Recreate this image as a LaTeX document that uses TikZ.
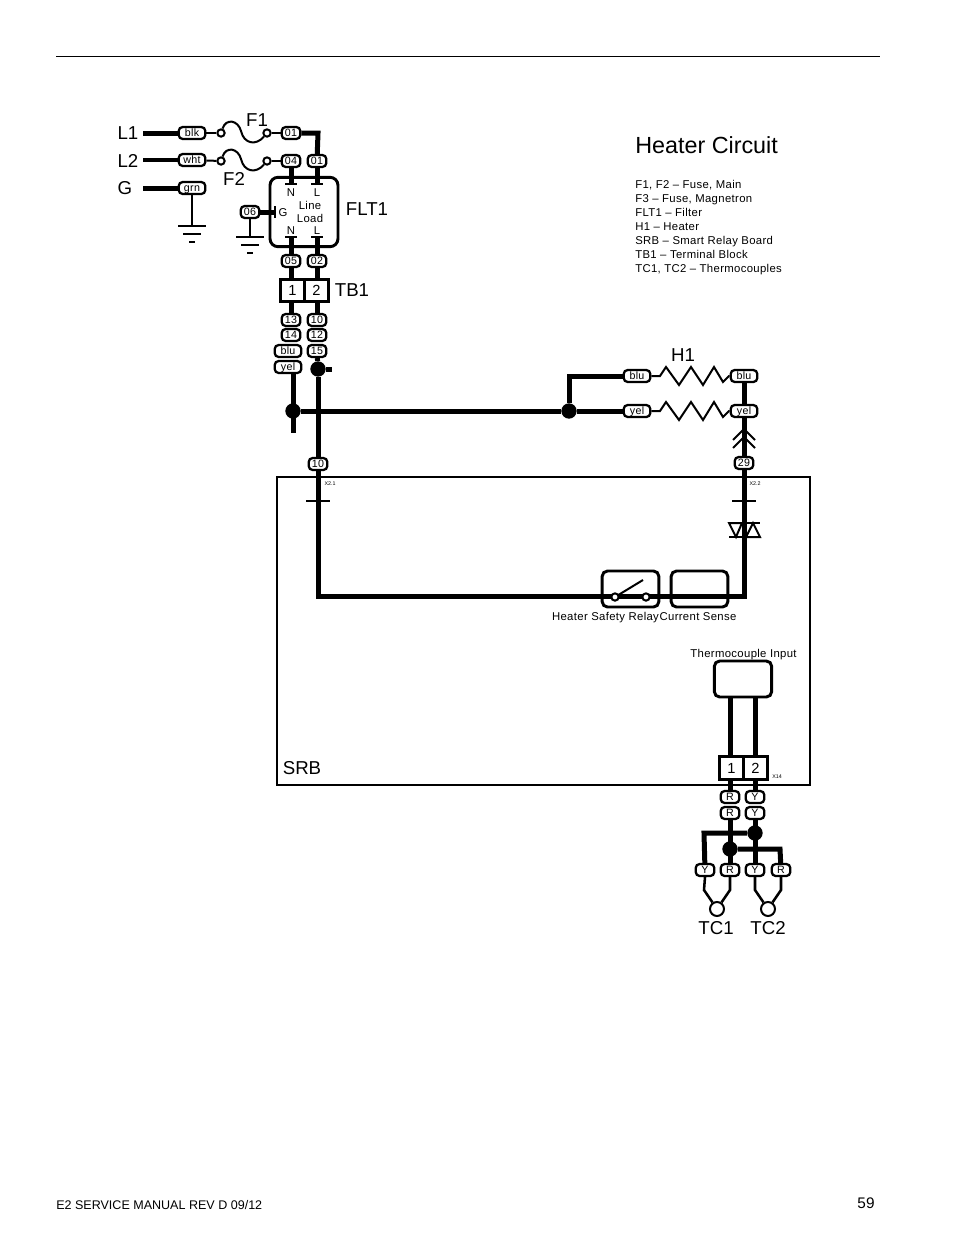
\documentclass[tikz,border=0pt]{standalone}
\usepackage{fontspec}
\setmainfont{Liberation Sans}
\newfontfamily\spaced[LetterSpace=3]{Liberation Sans}
\usetikzlibrary{positioning}

\begin{document}
\begin{tikzpicture}[x=0.75pt, y=-0.75pt,
			tag/.style={
					rectangle,
					rounded corners=3pt,
					draw,
					fill=white,
					line width=1.7pt,
					minimum height=9pt,
					minimum width=14pt,
					inner sep=0pt,
					text height=5.7pt,
					text depth=0pt,
					font=\spaced\fontsize{8}{8}\selectfont
				},
			wtag/.style={tag, minimum width=20pt},
			wire/.style={draw, line width=3.75pt},
			midwire/.style={draw, line width=3pt},
			thinwire/.style={draw, line width=1.5pt},
			tcwire/.style={draw, line width=1.9pt},
			joint/.style={circle, fill=black, inner sep=0pt, minimum size=11.5pt},
			term/.style={circle, draw, fill=white, line width=1.5pt, inner sep=0pt, minimum size=5.5pt},
			panel/.style={draw, rounded corners=4pt, line width=2.2pt, fill=white, inner sep=0pt},
			pin/.style={draw=black, fill=white, line width=2.4pt, inner sep=0pt, minimum height=17pt, minimum width=18pt, font=\fontsize{11}{11}\selectfont},
			big/.style={inner sep=0pt, font=\fontsize{14}{14}\selectfont},
			small/.style={inner sep=0pt, font=\spaced\fontsize{8.5}{8.5}\selectfont},
			mini/.style={inner sep=0pt, font=\fontsize{4}{4}\selectfont},
			earth/.pic={
					\draw[line width=1.5pt] (-14,0) -- (14,0);
					\draw[line width=2.2pt] (-9,8) -- (9,8);
					\draw[line width=2.2pt] (-3,16) -- (3,16);
				}
		]
		\useasboundingbox (0,0) rectangle (954,1235);
		% Page rule and footer
		\coordinate (ruleleft) at (56,56);
		\coordinate (ruleright) at (880,56);
		\draw[line width=0.75pt] (ruleleft) -- (ruleright);
		\node [inner sep=0pt, anchor=west, font=\fontsize{9.4}{9.4}\selectfont] (footer) at (56,1205) {E2 SERVICE MANUAL REV D 09/12};
		\node [inner sep=0pt, font=\fontsize{11.5}{11.5}\selectfont] (pageno) at (866,1203) {59};
		% Title and legend
		\node [inner sep=0pt, anchor=west, font=\fontsize{17.5}{17.5}\selectfont] (title) at (635,145) {Heater Circuit};
		\node [small, anchor=base west] (leg1) at (635,188) {F1, F2 – Fuse, Main};
		\node [small, anchor=base west] (leg2) at (635,202) {F3 – Fuse, Magnetron};
		\node [small, anchor=base west] (leg3) at (635,216) {FLT1 – Filter};
		\node [small, anchor=base west] (leg4) at (635,230) {H1 – Heater};
		\node [small, anchor=base west] (leg5) at (635,244) {SRB – Smart Relay Board};
		\node [small, anchor=base west] (leg6) at (635,258) {TB1 – Terminal Block};
		\node [small, anchor=base west] (leg7) at (635,272) {TC1, TC2 – Thermocouples};
		% SRB board
		\node [draw, line width=1.6pt, minimum width=400pt, minimum height=231pt, inner sep=0pt] (srb) at (543.5,631) {};
		\node [big] (srblabel) at (302,768) {SRB};
		\node [mini] (x21) at (330,484) {X2.1};
		\node [mini] (x22) at (755,484) {X2.2};
		\node [mini] (x14) at (777,777) {X14};
		% Supply side
		\node [big] (l1) at (128,133) {L1};
		\node [big] (l2) at (128,161) {L2};
		\node [big] (g) at (125,188) {G};
		\coordinate (l1end) at (143,133);
		\coordinate (l2end) at (143,160);
		\coordinate (gend) at (143,188);
		\node [wtag] (blk) at (192,133) {blk};
		\node [wtag] (wht) at (192,160) {wht};
		\node [wtag] (grn) at (192,188) {grn};
		\node [term] (f1a) at (221,133) {};
		\node [term] (f1b) at (267,133) {};
		\node [term] (f2a) at (221,161) {};
		\node [term] (f2b) at (267,161) {};
		\node [big] (f1) at (257,120) {F1};
		\node [big] (f2) at (234,179) {F2};
		\node [tag] (w01a) at (291,133) {01};
		\node [tag] (w04) at (291,161) {04};
		\node [tag] (w01b) at (317,161) {01};
		\coordinate (corner) at (318,133);
		\coordinate (gndg) at (192,226);
		\coordinate (gndf) at (250,237);
		% Filter
		\node [panel, rounded corners=6pt, minimum width=51pt, minimum height=52pt] (flt) at (304,212) {};
		\node [big] (fltlabel) at (367,209) {FLT1};
		\node [small, anchor=base] (fn1) at (291,196) {N};
		\node [small, anchor=base] (fl1) at (317,196) {L};
		\node [small, anchor=base] (fline) at (310,209) {Line};
		\node [small, anchor=base] (fload) at (310,222) {Load};
		\node [small, anchor=base] (fn2) at (291,234) {N};
		\node [small, anchor=base] (fl2) at (317,234) {L};
		\node [small, anchor=base] (fg) at (283,216) {G};
		\node [tag] (w06) at (250,212) {06};
		\node [tag] (w05) at (291,261) {05};
		\node [tag] (w02) at (317,261) {02};
		\coordinate (nin) at (291,184);
		\coordinate (lin) at (317,184);
		\coordinate (nout) at (291,237);
		\coordinate (lout) at (317,237);
		\coordinate (gin) at (275,212);
		% Terminal block
		\node [pin] (tb1a) at (292.5,290.5) {1};
		\node [pin, right=-2.4pt of tb1a] (tb1b) {2};
		\node [big] (tblabel) at (352,290) {TB1};
		\node [tag] (w13) at (291,320) {13};
		\node [tag] (w14) at (291,335) {14};
		\node [wtag] (wblu) at (288,351) {blu};
		\node [wtag] (wyel) at (288,367) {yel};
		\node [tag] (w10) at (317,320) {10};
		\node [tag] (w12) at (317,335) {12};
		\node [tag] (w15) at (317,351) {15};
		\node [joint] (j1) at (318,369) {};
		\node [joint] (j2) at (293,411) {};
		\node [joint] (j3) at (569,411) {};
		\coordinate (stubr) at (332,369);
		\coordinate (stubd) at (293,433);
		\coordinate (bend) at (569,376);
		% Heater
		\node [big] (h1) at (683,355) {H1};
		\node [wtag] (hblua) at (637,376) {blu};
		\node [wtag] (hyela) at (637,411) {yel};
		\node [wtag] (hblub) at (744,376) {blu};
		\node [wtag] (hyelb) at (744,411) {yel};
		\node [tag] (w29) at (744,463) {29};
		\node [tag] (w10b) at (318,464) {10};
		% Relay and current sense
		\node [panel, minimum width=42.5pt, minimum height=27pt] (relay) at (630.5,589) {};
		\node [panel, minimum width=42.5pt, minimum height=27pt] (sense) at (699.5,589) {};
		\coordinate (cornerl) at (318,596);
		\coordinate (cornerr) at (744,596);
		\node [small, anchor=base] (relaytxt) at (605.5,620) {Heater Safety Relay};
		\node [small, anchor=base] (sensetxt) at (698,620) {Current Sense};
		\node [small, anchor=base] (tctxt) at (743.5,657) {Thermocouple Input};
		% Thermocouple input
		\node [panel, minimum width=43pt, minimum height=27pt] (tcin) at (743,679) {};
		\node [pin] (x14a) at (731.5,768) {1};
		\node [pin, right=-2.4pt of x14a] (x14b) {2};
		\node [tag] (ra) at (730,797) {R};
		\node [tag] (ya) at (755,797) {Y};
		\node [tag] (rb) at (730,813) {R};
		\node [tag] (yb) at (755,813) {Y};
		\node [tag] (y1) at (705,870) {Y};
		\node [tag] (r1) at (730,870) {R};
		\node [tag] (y2) at (755,870) {Y};
		\node [tag] (r2) at (781,870) {R};
		\node [joint] (j4) at (755,833) {};
		\node [joint] (j5) at (730,849) {};
		\node [term, minimum size=10.5pt] (tc1) at (717,909) {};
		\node [term, minimum size=10.5pt] (tc2) at (768,909) {};
		\node [big] (tc1label) at (716,928) {TC1};
		\node [big] (tc2label) at (768,928) {TC2};
		\coordinate (left) at (704,833);
		\coordinate (right) at (780,849);
		% Draw edges
		\path [wire] (l1end) -- (blk);
		\path [midwire] (l2end) -- (wht);
		\path [wire] (gend) -- (grn);
		\path [thinwire] (blk) -- (f1a);
		\path [thinwire] (wht) -- (f2a);
		\path [thinwire] (f1a) .. controls (226,118) and (238,120) .. (241,131) .. controls (244,144) and (256,146) .. (f1b);
		\path [thinwire] (f2a) .. controls (226,146) and (238,148) .. (241,159) .. controls (244,172) and (256,174) .. (f2b);
		\path [thinwire] (f1b) -- (w01a);
		\path [thinwire] (f2b) -- (w04);
		\path [wire] (w01a) -| (corner) -- (w01b);
		\path [thinwire] (grn) -- (gndg);
		\pic at (gndg) {earth};
		\path [thinwire] (w06) -- (gndf);
		\pic at (gndf) {earth};
		\path [wire] (w04) -- (nin);
		\path [wire] (w01b) -- (lin);
		\path [wire] (nout) -- (w05);
		\path [wire] (lout) -- (w02);
		\path [wire] (w06) -- (gin);
		\foreach \tick in {nin,lin,nout,lout} {
				\draw [line width=1.5pt] ([xshift=-4.5pt]\tick) -- ([xshift=4.5pt]\tick);
			}
		\draw [line width=1.5pt] ([yshift=-4.5pt]gin) -- ([yshift=4.5pt]gin);
		\path [wire] (w05) -- (w05 |- tb1a.north);
		\path [wire] (w02) -- (w02 |- tb1b.north);
		\path [wire] (w13 |- tb1a.south) -- (w13);
		\path [wire] (w10 |- tb1b.south) -- (w10);
		\path [wire] (w15) -- (j1);
		\path [wire] (j1) -- (stubr);
		\path [wire] (wyel.south -| stubd) -- (stubd);
		\path [wire] (j2) -- (j3);
		\path [wire] (j3) -- (bend) -- (hblua);
		\path [wire] (j3) -- (hyela);
		\path [wire] (j1) -- (w10b);
		\draw [thinwire] (hblua) -- ++(23,0) -- ++(6,-9) -- ++(13,18) -- ++(12,-18) -- ++(12,18) -- ++(11,-18) -- ++(9,15) -- ++(6,-6) -- (hblub);
		\draw [thinwire] (hyela) -- ++(23,0) -- ++(6,-9) -- ++(13,18) -- ++(12,-18) -- ++(12,18) -- ++(11,-18) -- ++(9,15) -- ++(6,-6) -- (hyelb);
		\path [wire] (hblub) -- (hyelb);
		\path [wire] (hyelb) -- (w29);
		\draw [thinwire] (733,440) -- (744,429) -- (755,440);
		\draw [thinwire] (733,448) -- (744,437) -- (755,448);
		\path [wire] (w10b) -- (cornerl) -- (cornerr) -- (w29);
		\draw [line width=1.2pt] (306,501) -- (330,501);
		\draw [line width=1.2pt] (732,501) -- (756,501);
		% Triac
		\draw [line width=1.5pt, fill=white] (729,523) -- (742,523) -- (736,537) -- cycle;
		\draw [line width=1.5pt, fill=white] (746,537) -- (760,537) -- (753,523) -- cycle;
		\draw [line width=1.5pt] (729,523) -- (760,523);
		\draw [line width=1.5pt] (729,537) -- (760,537);
		% Switch
		\node [term] (swa) at (615,597) {};
		\node [term] (swb) at (646,597) {};
		\draw [thinwire] (swa) -- (643,580);
		% Thermocouple side
		\path [wire] (ra |- tcin.south) -- (ra |- x14a.north);
		\path [wire] (ya |- tcin.south) -- (ya |- x14b.north);
		\path [wire] (ra |- x14a.south) -- (ra);
		\path [wire] (ya |- x14b.south) -- (ya);
		\path [wire] (rb) -- (r1);
		\path [wire] (yb) -- (y2);
		\path [wire] (j4) -- (left) -- (y1);
		\path [wire] (j5) -- (right) -- (r2);
		\path [tcwire] (y1.south) -- (704,890) -- (tc1);
		\path [tcwire] (r1.south) -- (730,890) -- (tc1);
		\path [tcwire] (y2.south) -- (755,890) -- (tc2);
		\path [tcwire] (r2.south) -- (781,890) -- (tc2);
	\end{tikzpicture}
\end{document}
